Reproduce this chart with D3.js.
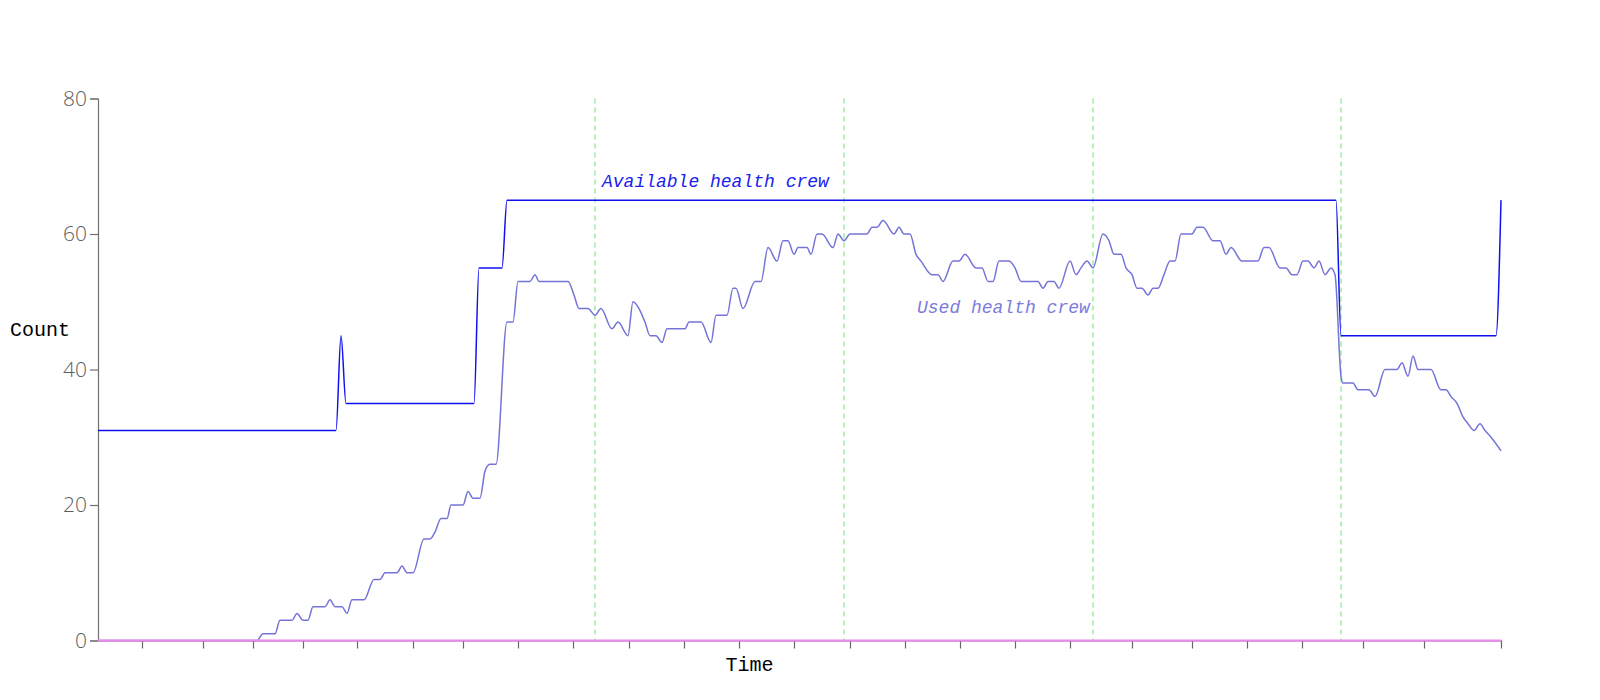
<!DOCTYPE html>
<html>
<head>
<meta charset="utf-8">
<script src="https://cdn.jsdelivr.net/npm/d3@7"></script>
<style>
  html, body { margin: 0; padding: 0; background: #fff; }
  svg { display: block; }
</style>
</head>
<body>
<svg id="chart" width="1600" height="700"></svg>
<script>
// ---- data (time units along x, counts along y) ----
const availTime  = [0, 238, 243, 248, 376, 381, 404, 409, 1238, 1243, 1398, 1403];
const availCount = [31, 31, 45, 35, 35, 55, 55, 65, 65, 45, 45, 65];

const usedTime = [0,159,165,177,182,194,199,205,210,215,227,232,237,244,249,254,266,276,282,287,299,304,309,315,326,332,337,343,349,353,365,370,375,382,387,392,398,409,415,420,432,437,441,470,476,481,490,497,503,514,520,530,535,541,547,552,558,564,569,587,591,603,613,618,629,635,638,645,657,663,670,679,685,690,696,700,709,713,719,724,735,740,746,752,769,774,779,785,796,801,806,812,818,823,834,840,845,855,861,867,878,884,890,895,901,911,917,923,940,945,950,956,961,972,978,983,989,995,1005,1011,1016,1023,1028,1034,1039,1044,1050,1055,1060,1066,1072,1077,1083,1094,1099,1105,1115,1122,1128,1133,1144,1160,1166,1171,1182,1188,1194,1199,1205,1210,1216,1221,1227,1233,1237,1243,1245,1255,1260,1271,1277,1287,1299,1304,1310,1315,1320,1333,1343,1348,1353,1359,1365,1370,1376,1382,1387,1393,1403];
const usedCount = [0,0,1,1,3,3,4,3,3,5,5,6,5,5,4,6,6,9,9,10,10,11,10,10,15,15,16,18,18,20,20,22,21,21,25,26,26,47,47,53,53,54,53,53,51,49,49,48,49,46,47,45,50,49,47,45,45,44,46,46,47,47,44,48,48,52,52,49,53,53,58,56,59,59,57,58,58,57,60,60,58,60,59,60,60,61,61,62,60,61,60,60,57,56,54,54,53,56,56,57,55,55,53,53,56,56,55,53,53,52,53,53,52,56,54,55,56,55,60,59,57,57,55,54,52,52,51,52,52,54,56,56,60,60,61,61,59,59,57,58,56,56,58,58,55,55,54,54,56,56,55,56,54,55,54,39,38,38,37,37,36,40,40,41,39,42,40,40,37,37,36,35,33,32,31,32,31,30,28];

const missingTime  = [0, 1403];
const missingCount = [0, 0];

const markerTimes = [497, 746, 995, 1243];
const xTickValues = [44,105,155,205,259,315,365,420,475,531,586,641,696,752,807,862,917,972,1034,1094,1149,1204,1265,1326,1403];
const yTickValues = [0, 20, 40, 60, 80];

const seriesLabels = [
  {text: "Available health crew", t: 504, v: 67,   cls: "avail"},
  {text: "Used health crew",      t: 819, v: 48.4, cls: "used"}
];

// ---- layout ----
const W = 1600, H = 700;
const mLeft = 98, mRight = 1501, mTop = 98.5, mBottom = 640.5;
const monoFont = "'Courier New', Courier, FreeMono, 'Nimbus Mono PS', 'Liberation Mono', monospace";
const svg = d3.select("#chart");

const x = d3.scaleLinear().domain([0, 1403]).range([mLeft, mRight]);
const y = d3.scaleLinear().domain([0, 80]).range([mBottom, mTop]);

const zipPts = (ts, vs) => ts.map((t, i) => ({t, v: vs[i]}));

// marker lines
svg.append("g").selectAll("line").data(markerTimes).join("line")
  .attr("x1", d => x(d)).attr("x2", d => x(d))
  .attr("y1", y(80)).attr("y2", y(0))
  .attr("stroke", "#8ee88e").attr("stroke-width", 1.3)
  .attr("stroke-dasharray", "5,4");

// axes
const yAxis = d3.axisLeft(y).tickValues(yTickValues).tickSize(8).tickPadding(3).tickSizeOuter(8);
const gy = svg.append("g").attr("transform", `translate(${mLeft},0)`).call(yAxis);
gy.select(".domain").attr("stroke", "#707070").attr("stroke-width", 1.2);
gy.selectAll(".tick line").attr("stroke", "#707070").attr("stroke-width", 1.2);
gy.selectAll(".tick text").attr("fill", "#5e5e5e").attr("font-family", "'Open Sans', 'DejaVu Sans', sans-serif")
  .attr("font-size", 21).style("font-weight", 300);

const xAxis = d3.axisBottom(x).tickValues(xTickValues).tickSize(8).tickSizeOuter(0).tickFormat("");
const gx = svg.append("g").attr("transform", `translate(0,${mBottom})`).call(xAxis);
gx.select(".domain").attr("stroke", "#777");
gx.selectAll(".tick line").attr("stroke", "#666").attr("stroke-width", 1.2);

// lines
const line = d3.line().x(d => x(d.t)).y(d => y(d.v)).curve(d3.curveMonotoneX);

svg.append("path").datum(zipPts(usedTime, usedCount))
  .attr("d", line).attr("fill", "none")
  .attr("stroke", "#7474d8").attr("stroke-width", 1.5);

svg.append("path").datum(zipPts(availTime, availCount))
  .attr("d", line).attr("fill", "none")
  .attr("stroke", "#1010f0").attr("stroke-width", 1.5);

svg.append("path").datum(zipPts(missingTime, missingCount))
  .attr("d", line).attr("fill", "none")
  .attr("stroke", "#ee88ee").attr("stroke-width", 2);

// series labels
svg.append("g").selectAll("text").data(seriesLabels).join("text")
  .attr("x", d => x(d.t)).attr("y", d => y(d.v))
  .attr("font-family", monoFont)
  .attr("font-style", "italic").attr("font-size", 18)
  .attr("fill", d => d.cls === "avail" ? "#2020f0" : "#7c7cdc")
  .text(d => d.text);

// axis titles
svg.append("text").attr("x", 10).attr("y", 336)
  .attr("font-family", monoFont).attr("font-size", 20)
  .attr("fill", "#000").text("Count");
svg.append("text").attr("x", 749.5).attr("y", 671).attr("text-anchor", "middle")
  .attr("font-family", monoFont).attr("font-size", 20)
  .attr("fill", "#000").text("Time");
</script>
</body>
</html>
